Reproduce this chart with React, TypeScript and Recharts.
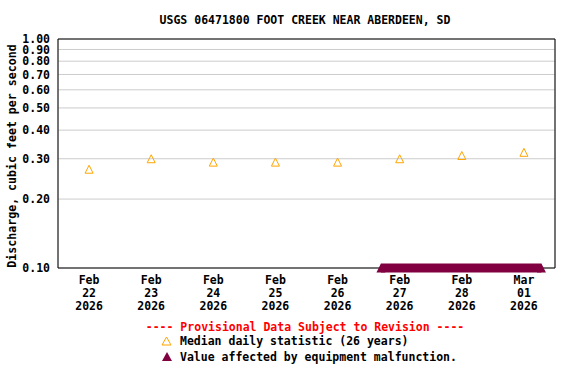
import React from "react";
import {
  ComposedChart,
  XAxis,
  YAxis,
  CartesianGrid,
  Scatter,
  Line,
  ReferenceArea,
} from "recharts";

const FONT = "'DejaVu Sans Mono', 'Liberation Mono', monospace";
const ORANGE = "#FFA500";
const MAROON = "#800040";

// days shown on the x axis (one column per day)
const dayMonths = ["Feb", "Feb", "Feb", "Feb", "Feb", "Feb", "Feb", "Mar"];
const dayNumbers = ["22", "23", "24", "25", "26", "27", "28", "01"];
const dayYears = ["2026", "2026", "2026", "2026", "2026", "2026", "2026", "2026"];

// median daily statistic (26 years), cfs, one per day
const medianValues = [0.27, 0.3, 0.29, 0.29, 0.29, 0.3, 0.31, 0.32];

// equipment malfunction period, hours since Feb 22 00:00, plotted at 0.10 cfs
const malfunctionHours = [124.75, 186.75];
const malfunctionValue = 0.1;

const yTicks = [0.1, 0.2, 0.3, 0.4, 0.5, 0.6, 0.7, 0.8, 0.9, 1.0];
const gridDays = [1, 2, 3, 4, 5, 6, 7];

const medianData = medianValues.map((v, i) => ({ x: i + 0.5, v }));
const malfunctionData = malfunctionHours.map((h) => ({ x: h / 24, v: malfunctionValue }));
const labelDays = dayNumbers.map((_, i) => i + 0.5);

function OpenTriangle(props: any) {
  const { cx, cy } = props;
  if (cx == null || cy == null) return null;
  return (
    <polygon
      points={`${cx - 4},${cy + 4} ${cx + 4},${cy + 4} ${cx},${cy - 4}`}
      fill="none"
      stroke={ORANGE}
      strokeWidth={1}
    />
  );
}

function FilledTriangle(props: any) {
  const { cx, cy, index } = props;
  if (cx == null || cy == null) return null;
  return (
    <polygon
      key={`m-${index}`}
      points={`${cx - 4.5},${cy + 4.5} ${cx + 4.5},${cy + 4.5} ${cx},${cy - 4.5}`}
      fill={MAROON}
    />
  );
}

function DayTick(props: any) {
  const { x, y, index } = props;
  return (
    <text x={x} y={y} textAnchor="middle" fontFamily={FONT} fontWeight="bold" fontSize={11.5} fill="#000">
      <tspan x={x} dy={8}>{dayMonths[index]}</tspan>
      <tspan x={x} dy={13}>{dayNumbers[index]}</tspan>
      <tspan x={x} dy={13}>{dayYears[index]}</tspan>
    </text>
  );
}

export default function App() {
  return (
    <div style={{ position: "absolute", left: 0, top: 0, width: 576, height: 384, background: "#fff" }}>
      <ComposedChart width={576} height={384} margin={{ top: 39, right: 21, bottom: 66, left: 0 }}>
        <XAxis
          xAxisId="grid"
          dataKey="x"
          type="number"
          domain={[0, 8]}
          ticks={gridDays}
          tick={false}
          tickLine={false}
          axisLine={false}
          height={0}
        />
        <XAxis
          xAxisId="x"
          dataKey="x"
          type="number"
          domain={[0, 8]}
          ticks={labelDays}
          tick={<DayTick />}
          tickLine={false}
          axisLine={false}
          interval={0}
          height={50}
        />
        <YAxis
          yAxisId="y"
          type="number"
          scale="log"
          domain={[0.1, 1]}
          ticks={yTicks}
          interval={0}
          width={58}
          tickLine={false}
          axisLine={false}
          tickFormatter={(v: number) => v.toFixed(2)}
          tick={{ fontFamily: FONT, fontWeight: "bold", fontSize: 11.5, fill: "#000" }}
        />
        <CartesianGrid xAxisId="grid" yAxisId="y" stroke="#cccccc" />
        <ReferenceArea
          xAxisId="x"
          yAxisId="y"
          x1={0}
          x2={8}
          y1={0.1}
          y2={1}
          fill="none"
          stroke="#000"
          strokeWidth={1}
        />
        <Scatter
          xAxisId="x"
          yAxisId="y"
          data={medianData}
          dataKey="v"
          shape={<OpenTriangle />}
          isAnimationActive={false}
        />
        <Line
          xAxisId="x"
          yAxisId="y"
          data={malfunctionData}
          dataKey="v"
          stroke={MAROON}
          strokeWidth={9}
          strokeLinecap="butt"
          dot={FilledTriangle}
          activeDot={false}
          isAnimationActive={false}
        />
      </ComposedChart>
      <svg width={576} height={384} style={{ position: "absolute", left: 0, top: 0, pointerEvents: "none" }}>
        <text x={305} y={24} textAnchor="middle" fontFamily={FONT} fontWeight="bold" fontSize={11.5} fill="#000">
          USGS 06471800 FOOT CREEK NEAR ABERDEEN, SD
        </text>
        <text
          transform="translate(16,156) rotate(-90)"
          textAnchor="middle"
          fontFamily={FONT}
          fontWeight="bold"
          fontSize={11.6}
          fill="#000"
        >
          Discharge, cubic feet per second
        </text>
        <text x={305} y={331} textAnchor="middle" fontFamily={FONT} fontWeight="bold" fontSize={11.5} fill="#ff0000">
          ---- Provisional Data Subject to Revision ----
        </text>
        <polygon points="162,345 171,345 166.5,337" fill="none" stroke={ORANGE} strokeWidth={1} />
        <text x={180} y={345} fontFamily={FONT} fontWeight="bold" fontSize={11.5} fill="#000">
          Median daily statistic (26 years)
        </text>
        <polygon points="162,361 172,361 167,352" fill={MAROON} />
        <text x={180} y={361} fontFamily={FONT} fontWeight="bold" fontSize={11.5} fill="#000">
          Value affected by equipment malfunction.
        </text>
      </svg>
    </div>
  );
}
